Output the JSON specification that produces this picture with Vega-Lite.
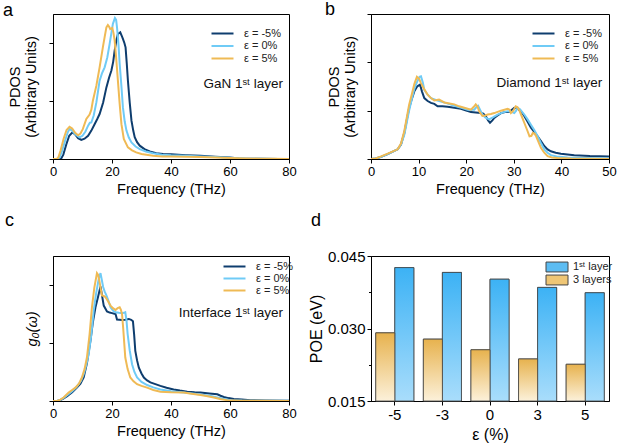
{
  "$schema": "https://vega.github.io/schema/vega-lite/v6.json",
  "padding": {"left": 2, "top": 0, "right": 2, "bottom": 2},
  "background": "white",
  "config": {
    "font": "Liberation Sans",
    "view": {"stroke": "black", "strokeWidth": 1},
    "axis": {"domainColor": "black", "tickColor": "black", "labelColor": "black", "titleColor": "black", "labelFontSize": 13, "titleFontSize": 14.5, "titleFontWeight": "normal", "grid": false, "labelFont": "Liberation Sans", "titleFont": "Liberation Sans", "labelFlush": false, "labelOverlap": false},
    "legend": {"labelFontSize": 11, "labelFont": "Liberation Sans", "labelColor": "#222", "symbolType": "M-2,0L2,0", "symbolStrokeWidth": 2.5, "symbolSize": 121, "labelOffset": 15, "rowPadding": 0.5},
    "title": {"fontSize": 18, "fontWeight": "normal", "anchor": "start", "frame": "group", "baseline": "alphabetic", "color": "black"},
    "line": {"strokeWidth": 2, "clip": true}
  },
  "resolve": {"scale": {"color": "independent", "fill": "independent"}},
  "datasets": {
    "a": [
      {"f":0,"v":0,"s":"ε = -5%"},{"f":2,"v":0,"s":"ε = -5%"},{"f":2.8,"v":0.02,"s":"ε = -5%"},{"f":3.5,"v":0.15,"s":"ε = -5%"},{"f":4.5,"v":0.5,"s":"ε = -5%"},{"f":5.5,"v":0.8,"s":"ε = -5%"},{"f":6.6,"v":0.92,"s":"ε = -5%"},{"f":7.5,"v":0.85,"s":"ε = -5%"},{"f":8.5,"v":0.72,"s":"ε = -5%"},{"f":9.6,"v":0.66,"s":"ε = -5%"},{"f":10.7,"v":0.7,"s":"ε = -5%"},{"f":11.9,"v":0.8,"s":"ε = -5%"},{"f":13,"v":0.98,"s":"ε = -5%"},{"f":14.1,"v":1.2,"s":"ε = -5%"},{"f":15,"v":1.38,"s":"ε = -5%"},{"f":15.8,"v":1.55,"s":"ε = -5%"},{"f":17,"v":1.95,"s":"ε = -5%"},{"f":18.1,"v":2.47,"s":"ε = -5%"},{"f":19,"v":2.8,"s":"ε = -5%"},{"f":19.8,"v":3.05,"s":"ε = -5%"},{"f":20.4,"v":3.35,"s":"ε = -5%"},{"f":20.9,"v":3.74,"s":"ε = -5%"},{"f":21.5,"v":4.1,"s":"ε = -5%"},{"f":22,"v":4.31,"s":"ε = -5%"},{"f":22.8,"v":4.37,"s":"ε = -5%"},{"f":23.3,"v":4.25,"s":"ε = -5%"},{"f":23.7,"v":4.14,"s":"ε = -5%"},{"f":24.2,"v":4.0,"s":"ε = -5%"},{"f":24.6,"v":3.85,"s":"ε = -5%"},{"f":25,"v":3.3,"s":"ε = -5%"},{"f":25.4,"v":2.7,"s":"ε = -5%"},{"f":26,"v":1.95,"s":"ε = -5%"},{"f":26.6,"v":1.32,"s":"ε = -5%"},{"f":27.2,"v":0.98,"s":"ε = -5%"},{"f":27.7,"v":0.75,"s":"ε = -5%"},{"f":28.5,"v":0.58,"s":"ε = -5%"},{"f":29.4,"v":0.46,"s":"ε = -5%"},{"f":31,"v":0.34,"s":"ε = -5%"},{"f":32.8,"v":0.26,"s":"ε = -5%"},{"f":35,"v":0.2,"s":"ε = -5%"},{"f":37.3,"v":0.17,"s":"ε = -5%"},{"f":40,"v":0.16,"s":"ε = -5%"},{"f":45,"v":0.13,"s":"ε = -5%"},{"f":50,"v":0.11,"s":"ε = -5%"},{"f":55,"v":0.08,"s":"ε = -5%"},{"f":60,"v":0.05,"s":"ε = -5%"},{"f":63,"v":0.02,"s":"ε = -5%"},{"f":66,"v":0.01,"s":"ε = -5%"},{"f":70,"v":0.005,"s":"ε = -5%"},{"f":76.5,"v":0,"s":"ε = -5%"},
      {"f":0,"v":0,"s":"ε = 0%"},{"f":1.5,"v":0,"s":"ε = 0%"},{"f":2.2,"v":0.05,"s":"ε = 0%"},{"f":3,"v":0.25,"s":"ε = 0%"},{"f":4,"v":0.6,"s":"ε = 0%"},{"f":5,"v":0.92,"s":"ε = 0%"},{"f":5.6,"v":1.03,"s":"ε = 0%"},{"f":6.5,"v":0.98,"s":"ε = 0%"},{"f":7.5,"v":0.85,"s":"ε = 0%"},{"f":9,"v":0.75,"s":"ε = 0%"},{"f":10,"v":0.8,"s":"ε = 0%"},{"f":11,"v":0.95,"s":"ε = 0%"},{"f":11.9,"v":1.15,"s":"ε = 0%"},{"f":12.5,"v":1.25,"s":"ε = 0%"},{"f":13,"v":1.26,"s":"ε = 0%"},{"f":13.8,"v":1.5,"s":"ε = 0%"},{"f":14.7,"v":1.95,"s":"ε = 0%"},{"f":15.8,"v":2.7,"s":"ε = 0%"},{"f":16.6,"v":2.95,"s":"ε = 0%"},{"f":17.5,"v":3.16,"s":"ε = 0%"},{"f":18.4,"v":3.5,"s":"ε = 0%"},{"f":19.2,"v":3.97,"s":"ε = 0%"},{"f":19.8,"v":4.35,"s":"ε = 0%"},{"f":20.3,"v":4.66,"s":"ε = 0%"},{"f":21,"v":4.86,"s":"ε = 0%"},{"f":21.4,"v":4.8,"s":"ε = 0%"},{"f":21.7,"v":4.54,"s":"ε = 0%"},{"f":22.2,"v":3.95,"s":"ε = 0%"},{"f":22.6,"v":3.28,"s":"ε = 0%"},{"f":23.2,"v":2.5,"s":"ε = 0%"},{"f":23.7,"v":1.78,"s":"ε = 0%"},{"f":24.3,"v":1.3,"s":"ε = 0%"},{"f":24.9,"v":0.98,"s":"ε = 0%"},{"f":25.7,"v":0.74,"s":"ε = 0%"},{"f":26.6,"v":0.57,"s":"ε = 0%"},{"f":28,"v":0.43,"s":"ε = 0%"},{"f":29.4,"v":0.34,"s":"ε = 0%"},{"f":31.5,"v":0.26,"s":"ε = 0%"},{"f":33.9,"v":0.2,"s":"ε = 0%"},{"f":37,"v":0.15,"s":"ε = 0%"},{"f":40,"v":0.13,"s":"ε = 0%"},{"f":45,"v":0.11,"s":"ε = 0%"},{"f":50,"v":0.09,"s":"ε = 0%"},{"f":55,"v":0.07,"s":"ε = 0%"},{"f":60,"v":0.04,"s":"ε = 0%"},{"f":65,"v":0.015,"s":"ε = 0%"},{"f":70,"v":0.005,"s":"ε = 0%"},{"f":76.5,"v":0,"s":"ε = 0%"},
      {"f":0,"v":0,"s":"ε = 5%"},{"f":1.2,"v":0,"s":"ε = 5%"},{"f":1.8,"v":0.05,"s":"ε = 5%"},{"f":2.6,"v":0.3,"s":"ε = 5%"},{"f":3.6,"v":0.7,"s":"ε = 5%"},{"f":4.6,"v":1.0,"s":"ε = 5%"},{"f":5.6,"v":1.11,"s":"ε = 5%"},{"f":6.5,"v":1.05,"s":"ε = 5%"},{"f":7.5,"v":0.9,"s":"ε = 5%"},{"f":8.5,"v":0.82,"s":"ε = 5%"},{"f":9.3,"v":0.88,"s":"ε = 5%"},{"f":10.1,"v":1.03,"s":"ε = 5%"},{"f":11.3,"v":1.38,"s":"ε = 5%"},{"f":12.4,"v":1.53,"s":"ε = 5%"},{"f":13,"v":1.7,"s":"ε = 5%"},{"f":13.5,"v":2.0,"s":"ε = 5%"},{"f":14.7,"v":2.53,"s":"ε = 5%"},{"f":15.8,"v":3.16,"s":"ε = 5%"},{"f":16.9,"v":3.85,"s":"ε = 5%"},{"f":17.5,"v":4.2,"s":"ε = 5%"},{"f":18.1,"v":4.54,"s":"ε = 5%"},{"f":18.6,"v":4.62,"s":"ε = 5%"},{"f":19.1,"v":4.55,"s":"ε = 5%"},{"f":19.4,"v":4.48,"s":"ε = 5%"},{"f":20.1,"v":4.52,"s":"ε = 5%"},{"f":20.5,"v":4.35,"s":"ε = 5%"},{"f":20.9,"v":4.08,"s":"ε = 5%"},{"f":21.4,"v":3.5,"s":"ε = 5%"},{"f":22,"v":2.7,"s":"ε = 5%"},{"f":22.6,"v":1.9,"s":"ε = 5%"},{"f":23.2,"v":1.2,"s":"ε = 5%"},{"f":24,"v":0.69,"s":"ε = 5%"},{"f":25.4,"v":0.4,"s":"ε = 5%"},{"f":26.8,"v":0.3,"s":"ε = 5%"},{"f":28.2,"v":0.23,"s":"ε = 5%"},{"f":30,"v":0.17,"s":"ε = 5%"},{"f":33.9,"v":0.11,"s":"ε = 5%"},{"f":37,"v":0.09,"s":"ε = 5%"},{"f":40,"v":0.085,"s":"ε = 5%"},{"f":45,"v":0.08,"s":"ε = 5%"},{"f":50,"v":0.07,"s":"ε = 5%"},{"f":55,"v":0.05,"s":"ε = 5%"},{"f":60,"v":0.035,"s":"ε = 5%"},{"f":65,"v":0.02,"s":"ε = 5%"},{"f":70,"v":0.01,"s":"ε = 5%"},{"f":75,"v":0.005,"s":"ε = 5%"},{"f":80,"v":0,"s":"ε = 5%"}
    ],
    "b": [
      {"f":0,"v":0,"s":"ε = -5%"},{"f":1,"v":0.01,"s":"ε = -5%"},{"f":2,"v":0.04,"s":"ε = -5%"},{"f":3.5,"v":0.1,"s":"ε = -5%"},{"f":5.6,"v":0.2,"s":"ε = -5%"},{"f":6.3,"v":0.3,"s":"ε = -5%"},{"f":7,"v":0.54,"s":"ε = -5%"},{"f":7.5,"v":0.8,"s":"ε = -5%"},{"f":8,"v":1.05,"s":"ε = -5%"},{"f":8.6,"v":1.25,"s":"ε = -5%"},{"f":9.1,"v":1.4,"s":"ε = -5%"},{"f":9.7,"v":1.5,"s":"ε = -5%"},{"f":10.3,"v":1.54,"s":"ε = -5%"},{"f":10.7,"v":1.4,"s":"ε = -5%"},{"f":11.2,"v":1.26,"s":"ε = -5%"},{"f":11.9,"v":1.2,"s":"ε = -5%"},{"f":12.6,"v":1.16,"s":"ε = -5%"},{"f":13.3,"v":1.14,"s":"ε = -5%"},{"f":14,"v":1.09,"s":"ε = -5%"},{"f":15,"v":1.09,"s":"ε = -5%"},{"f":16.1,"v":1.08,"s":"ε = -5%"},{"f":17.5,"v":1.06,"s":"ε = -5%"},{"f":18.9,"v":1.04,"s":"ε = -5%"},{"f":20,"v":1.0,"s":"ε = -5%"},{"f":21,"v":0.97,"s":"ε = -5%"},{"f":22,"v":0.96,"s":"ε = -5%"},{"f":23.1,"v":0.95,"s":"ε = -5%"},{"f":23.6,"v":0.94,"s":"ε = -5%"},{"f":24.1,"v":0.89,"s":"ε = -5%"},{"f":24.6,"v":0.8,"s":"ε = -5%"},{"f":25,"v":0.75,"s":"ε = -5%"},{"f":25.5,"v":0.8,"s":"ε = -5%"},{"f":25.9,"v":0.85,"s":"ε = -5%"},{"f":26.6,"v":0.9,"s":"ε = -5%"},{"f":27.3,"v":0.95,"s":"ε = -5%"},{"f":28.2,"v":0.97,"s":"ε = -5%"},{"f":29,"v":0.97,"s":"ε = -5%"},{"f":29.6,"v":1.02,"s":"ε = -5%"},{"f":30.1,"v":1.06,"s":"ε = -5%"},{"f":30.6,"v":1.05,"s":"ε = -5%"},{"f":31.1,"v":1.02,"s":"ε = -5%"},{"f":31.7,"v":0.96,"s":"ε = -5%"},{"f":32.2,"v":0.89,"s":"ε = -5%"},{"f":32.9,"v":0.77,"s":"ε = -5%"},{"f":33.6,"v":0.65,"s":"ε = -5%"},{"f":34.3,"v":0.56,"s":"ε = -5%"},{"f":35,"v":0.47,"s":"ε = -5%"},{"f":35.7,"v":0.37,"s":"ε = -5%"},{"f":36.4,"v":0.27,"s":"ε = -5%"},{"f":37.1,"v":0.2,"s":"ε = -5%"},{"f":37.8,"v":0.16,"s":"ε = -5%"},{"f":38.8,"v":0.13,"s":"ε = -5%"},{"f":39.9,"v":0.11,"s":"ε = -5%"},{"f":42.7,"v":0.08,"s":"ε = -5%"},{"f":46,"v":0.06,"s":"ε = -5%"},{"f":50,"v":0.05,"s":"ε = -5%"},
      {"f":0,"v":0,"s":"ε = 0%"},{"f":1,"v":0.01,"s":"ε = 0%"},{"f":2,"v":0.04,"s":"ε = 0%"},{"f":3.5,"v":0.1,"s":"ε = 0%"},{"f":5.6,"v":0.2,"s":"ε = 0%"},{"f":6.3,"v":0.3,"s":"ε = 0%"},{"f":7,"v":0.5,"s":"ε = 0%"},{"f":7.5,"v":0.75,"s":"ε = 0%"},{"f":8,"v":1.0,"s":"ε = 0%"},{"f":8.6,"v":1.25,"s":"ε = 0%"},{"f":9.1,"v":1.45,"s":"ε = 0%"},{"f":9.7,"v":1.6,"s":"ε = 0%"},{"f":10.2,"v":1.7,"s":"ε = 0%"},{"f":10.5,"v":1.71,"s":"ε = 0%"},{"f":10.9,"v":1.58,"s":"ε = 0%"},{"f":11.2,"v":1.43,"s":"ε = 0%"},{"f":11.9,"v":1.33,"s":"ε = 0%"},{"f":12.6,"v":1.26,"s":"ε = 0%"},{"f":13.6,"v":1.22,"s":"ε = 0%"},{"f":14.7,"v":1.19,"s":"ε = 0%"},{"f":16,"v":1.15,"s":"ε = 0%"},{"f":17.5,"v":1.1,"s":"ε = 0%"},{"f":19,"v":1.06,"s":"ε = 0%"},{"f":20.3,"v":1.02,"s":"ε = 0%"},{"f":21.7,"v":1.02,"s":"ε = 0%"},{"f":22.2,"v":1.08,"s":"ε = 0%"},{"f":22.5,"v":1.1,"s":"ε = 0%"},{"f":22.9,"v":1.02,"s":"ε = 0%"},{"f":23.4,"v":0.92,"s":"ε = 0%"},{"f":24,"v":0.86,"s":"ε = 0%"},{"f":24.8,"v":0.82,"s":"ε = 0%"},{"f":25.6,"v":0.86,"s":"ε = 0%"},{"f":26.6,"v":0.92,"s":"ε = 0%"},{"f":27.6,"v":0.96,"s":"ε = 0%"},{"f":28.7,"v":0.99,"s":"ε = 0%"},{"f":29.4,"v":0.98,"s":"ε = 0%"},{"f":30.1,"v":0.95,"s":"ε = 0%"},{"f":30.5,"v":1.0,"s":"ε = 0%"},{"f":30.8,"v":1.06,"s":"ε = 0%"},{"f":31.3,"v":1.03,"s":"ε = 0%"},{"f":32.2,"v":0.92,"s":"ε = 0%"},{"f":32.9,"v":0.82,"s":"ε = 0%"},{"f":33.6,"v":0.71,"s":"ε = 0%"},{"f":34.3,"v":0.6,"s":"ε = 0%"},{"f":35,"v":0.47,"s":"ε = 0%"},{"f":35.7,"v":0.33,"s":"ε = 0%"},{"f":36.4,"v":0.2,"s":"ε = 0%"},{"f":37.1,"v":0.13,"s":"ε = 0%"},{"f":37.8,"v":0.08,"s":"ε = 0%"},{"f":39,"v":0.05,"s":"ε = 0%"},{"f":41.3,"v":0.03,"s":"ε = 0%"},{"f":45,"v":0.02,"s":"ε = 0%"},{"f":50,"v":0.01,"s":"ε = 0%"},
      {"f":0,"v":0,"s":"ε = 5%"},{"f":1,"v":0.01,"s":"ε = 5%"},{"f":2,"v":0.05,"s":"ε = 5%"},{"f":3.5,"v":0.11,"s":"ε = 5%"},{"f":5.6,"v":0.2,"s":"ε = 5%"},{"f":6.3,"v":0.32,"s":"ε = 5%"},{"f":7,"v":0.58,"s":"ε = 5%"},{"f":7.5,"v":0.85,"s":"ε = 5%"},{"f":8,"v":1.12,"s":"ε = 5%"},{"f":8.6,"v":1.35,"s":"ε = 5%"},{"f":9.1,"v":1.55,"s":"ε = 5%"},{"f":9.65,"v":1.7,"s":"ε = 5%"},{"f":10.1,"v":1.66,"s":"ε = 5%"},{"f":10.5,"v":1.57,"s":"ε = 5%"},{"f":11.2,"v":1.44,"s":"ε = 5%"},{"f":11.9,"v":1.33,"s":"ε = 5%"},{"f":12.6,"v":1.26,"s":"ε = 5%"},{"f":13.3,"v":1.21,"s":"ε = 5%"},{"f":14.3,"v":1.23,"s":"ε = 5%"},{"f":15.4,"v":1.17,"s":"ε = 5%"},{"f":16.5,"v":1.15,"s":"ε = 5%"},{"f":17.5,"v":1.13,"s":"ε = 5%"},{"f":18.5,"v":1.09,"s":"ε = 5%"},{"f":19.6,"v":1.06,"s":"ε = 5%"},{"f":21,"v":1.02,"s":"ε = 5%"},{"f":21.6,"v":1.08,"s":"ε = 5%"},{"f":22,"v":1.13,"s":"ε = 5%"},{"f":22.4,"v":1.08,"s":"ε = 5%"},{"f":22.7,"v":0.99,"s":"ε = 5%"},{"f":23.4,"v":0.89,"s":"ε = 5%"},{"f":24,"v":0.9,"s":"ε = 5%"},{"f":24.5,"v":0.92,"s":"ε = 5%"},{"f":25.2,"v":0.93,"s":"ε = 5%"},{"f":25.9,"v":0.95,"s":"ε = 5%"},{"f":27.3,"v":1.0,"s":"ε = 5%"},{"f":28.7,"v":1.04,"s":"ε = 5%"},{"f":29.1,"v":1.02,"s":"ε = 5%"},{"f":29.4,"v":0.95,"s":"ε = 5%"},{"f":29.9,"v":1.0,"s":"ε = 5%"},{"f":30.4,"v":1.09,"s":"ε = 5%"},{"f":30.8,"v":1.07,"s":"ε = 5%"},{"f":31.1,"v":1.02,"s":"ε = 5%"},{"f":31.6,"v":0.9,"s":"ε = 5%"},{"f":32.2,"v":0.75,"s":"ε = 5%"},{"f":32.8,"v":0.6,"s":"ε = 5%"},{"f":33.3,"v":0.47,"s":"ε = 5%"},{"f":33.7,"v":0.48,"s":"ε = 5%"},{"f":34,"v":0.54,"s":"ε = 5%"},{"f":34.4,"v":0.52,"s":"ε = 5%"},{"f":34.7,"v":0.47,"s":"ε = 5%"},{"f":35.2,"v":0.35,"s":"ε = 5%"},{"f":35.7,"v":0.23,"s":"ε = 5%"},{"f":36.4,"v":0.13,"s":"ε = 5%"},{"f":37.1,"v":0.06,"s":"ε = 5%"},{"f":38,"v":0.03,"s":"ε = 5%"},{"f":39.2,"v":0.02,"s":"ε = 5%"},{"f":42,"v":0.01,"s":"ε = 5%"},{"f":50,"v":0,"s":"ε = 5%"}
    ],
    "c": [
      {"f":0,"v":0,"s":"ε = -5%"},{"f":1.4,"v":0,"s":"ε = -5%"},{"f":2.5,"v":0.03,"s":"ε = -5%"},{"f":3.5,"v":0.08,"s":"ε = -5%"},{"f":4.8,"v":0.17,"s":"ε = -5%"},{"f":6.5,"v":0.3,"s":"ε = -5%"},{"f":8.1,"v":0.46,"s":"ε = -5%"},{"f":9.3,"v":0.6,"s":"ε = -5%"},{"f":10.4,"v":0.81,"s":"ε = -5%"},{"f":11.5,"v":1.3,"s":"ε = -5%"},{"f":12.7,"v":2.08,"s":"ε = -5%"},{"f":13.5,"v":2.7,"s":"ε = -5%"},{"f":14.4,"v":3.23,"s":"ε = -5%"},{"f":15.3,"v":3.6,"s":"ε = -5%"},{"f":16.1,"v":3.95,"s":"ε = -5%"},{"f":16.6,"v":3.65,"s":"ε = -5%"},{"f":17.2,"v":3.29,"s":"ε = -5%"},{"f":18.3,"v":3.09,"s":"ε = -5%"},{"f":19.2,"v":3.05,"s":"ε = -5%"},{"f":20,"v":3.03,"s":"ε = -5%"},{"f":20.8,"v":3.01,"s":"ε = -5%"},{"f":21.2,"v":3.0,"s":"ε = -5%"},{"f":21.7,"v":2.81,"s":"ε = -5%"},{"f":22.5,"v":2.8,"s":"ε = -5%"},{"f":23.4,"v":2.79,"s":"ε = -5%"},{"f":24.5,"v":2.8,"s":"ε = -5%"},{"f":25.7,"v":2.83,"s":"ε = -5%"},{"f":26.5,"v":2.8,"s":"ε = -5%"},{"f":27.1,"v":2.75,"s":"ε = -5%"},{"f":27.5,"v":2.3,"s":"ε = -5%"},{"f":27.9,"v":1.73,"s":"ε = -5%"},{"f":28.5,"v":1.4,"s":"ε = -5%"},{"f":29.1,"v":1.15,"s":"ε = -5%"},{"f":30,"v":0.95,"s":"ε = -5%"},{"f":30.8,"v":0.81,"s":"ε = -5%"},{"f":31.9,"v":0.71,"s":"ε = -5%"},{"f":33,"v":0.64,"s":"ε = -5%"},{"f":34.7,"v":0.58,"s":"ε = -5%"},{"f":36.4,"v":0.52,"s":"ε = -5%"},{"f":38.5,"v":0.46,"s":"ε = -5%"},{"f":40.9,"v":0.4,"s":"ε = -5%"},{"f":43,"v":0.36,"s":"ε = -5%"},{"f":45.5,"v":0.32,"s":"ε = -5%"},{"f":48,"v":0.3,"s":"ε = -5%"},{"f":50,"v":0.29,"s":"ε = -5%"},{"f":53,"v":0.26,"s":"ε = -5%"},{"f":55.7,"v":0.23,"s":"ε = -5%"},{"f":56.8,"v":0.18,"s":"ε = -5%"},{"f":57.9,"v":0.14,"s":"ε = -5%"},{"f":59.5,"v":0.1,"s":"ε = -5%"},{"f":61.3,"v":0.07,"s":"ε = -5%"},{"f":64,"v":0.05,"s":"ε = -5%"},{"f":67,"v":0.03,"s":"ε = -5%"},{"f":72,"v":0.02,"s":"ε = -5%"},{"f":80,"v":0.01,"s":"ε = -5%"},
      {"f":0,"v":0,"s":"ε = 0%"},{"f":1.4,"v":0,"s":"ε = 0%"},{"f":2.5,"v":0.04,"s":"ε = 0%"},{"f":3.6,"v":0.11,"s":"ε = 0%"},{"f":5,"v":0.22,"s":"ε = 0%"},{"f":6.5,"v":0.34,"s":"ε = 0%"},{"f":8,"v":0.48,"s":"ε = 0%"},{"f":9.5,"v":0.7,"s":"ε = 0%"},{"f":10.5,"v":0.95,"s":"ε = 0%"},{"f":11.3,"v":1.25,"s":"ε = 0%"},{"f":12.1,"v":1.62,"s":"ε = 0%"},{"f":13,"v":2.3,"s":"ε = 0%"},{"f":13.8,"v":3.12,"s":"ε = 0%"},{"f":14.6,"v":3.7,"s":"ε = 0%"},{"f":15.5,"v":4.21,"s":"ε = 0%"},{"f":16.1,"v":4.41,"s":"ε = 0%"},{"f":16.5,"v":4.2,"s":"ε = 0%"},{"f":17,"v":3.93,"s":"ε = 0%"},{"f":17.5,"v":3.78,"s":"ε = 0%"},{"f":18.1,"v":3.64,"s":"ε = 0%"},{"f":18.8,"v":3.45,"s":"ε = 0%"},{"f":19.5,"v":3.23,"s":"ε = 0%"},{"f":20.3,"v":3.12,"s":"ε = 0%"},{"f":21.2,"v":3.06,"s":"ε = 0%"},{"f":22.3,"v":3.04,"s":"ε = 0%"},{"f":23.4,"v":3.03,"s":"ε = 0%"},{"f":24,"v":3.04,"s":"ε = 0%"},{"f":24.5,"v":3.06,"s":"ε = 0%"},{"f":24.9,"v":2.8,"s":"ε = 0%"},{"f":25.3,"v":2.31,"s":"ε = 0%"},{"f":26,"v":1.75,"s":"ε = 0%"},{"f":26.8,"v":1.27,"s":"ε = 0%"},{"f":27.6,"v":1.0,"s":"ε = 0%"},{"f":28.5,"v":0.81,"s":"ε = 0%"},{"f":30,"v":0.66,"s":"ε = 0%"},{"f":31.9,"v":0.55,"s":"ε = 0%"},{"f":34,"v":0.47,"s":"ε = 0%"},{"f":36.4,"v":0.4,"s":"ε = 0%"},{"f":40,"v":0.34,"s":"ε = 0%"},{"f":44.3,"v":0.29,"s":"ε = 0%"},{"f":48,"v":0.25,"s":"ε = 0%"},{"f":51.1,"v":0.21,"s":"ε = 0%"},{"f":53.5,"v":0.17,"s":"ε = 0%"},{"f":55.7,"v":0.12,"s":"ε = 0%"},{"f":58,"v":0.07,"s":"ε = 0%"},{"f":60.2,"v":0.03,"s":"ε = 0%"},{"f":64,"v":0.015,"s":"ε = 0%"},{"f":70,"v":0.01,"s":"ε = 0%"},{"f":80,"v":0.005,"s":"ε = 0%"},
      {"f":0,"v":0,"s":"ε = 5%"},{"f":1.4,"v":0,"s":"ε = 5%"},{"f":2.5,"v":0.05,"s":"ε = 5%"},{"f":3.6,"v":0.12,"s":"ε = 5%"},{"f":5.3,"v":0.29,"s":"ε = 5%"},{"f":6.5,"v":0.38,"s":"ε = 5%"},{"f":7.6,"v":0.46,"s":"ε = 5%"},{"f":8.8,"v":0.6,"s":"ε = 5%"},{"f":9.8,"v":0.81,"s":"ε = 5%"},{"f":10.7,"v":1.1,"s":"ε = 5%"},{"f":11.5,"v":1.5,"s":"ε = 5%"},{"f":12.4,"v":2.3,"s":"ε = 5%"},{"f":13.2,"v":3.23,"s":"ε = 5%"},{"f":14,"v":3.9,"s":"ε = 5%"},{"f":14.9,"v":4.41,"s":"ε = 5%"},{"f":15.3,"v":4.35,"s":"ε = 5%"},{"f":15.8,"v":4.1,"s":"ε = 5%"},{"f":16.2,"v":3.85,"s":"ε = 5%"},{"f":16.6,"v":3.64,"s":"ε = 5%"},{"f":17.2,"v":3.62,"s":"ε = 5%"},{"f":17.8,"v":3.58,"s":"ε = 5%"},{"f":18.6,"v":3.45,"s":"ε = 5%"},{"f":19.5,"v":3.29,"s":"ε = 5%"},{"f":20.3,"v":3.2,"s":"ε = 5%"},{"f":21.2,"v":3.14,"s":"ε = 5%"},{"f":21.9,"v":3.2,"s":"ε = 5%"},{"f":22.6,"v":3.23,"s":"ε = 5%"},{"f":23,"v":3.15,"s":"ε = 5%"},{"f":23.4,"v":3.0,"s":"ε = 5%"},{"f":23.8,"v":2.5,"s":"ε = 5%"},{"f":24.5,"v":1.5,"s":"ε = 5%"},{"f":25.3,"v":1.1,"s":"ε = 5%"},{"f":26.2,"v":0.81,"s":"ε = 5%"},{"f":27.3,"v":0.68,"s":"ε = 5%"},{"f":28.5,"v":0.58,"s":"ε = 5%"},{"f":30,"v":0.52,"s":"ε = 5%"},{"f":31.9,"v":0.46,"s":"ε = 5%"},{"f":34,"v":0.38,"s":"ε = 5%"},{"f":36.4,"v":0.32,"s":"ε = 5%"},{"f":40,"v":0.3,"s":"ε = 5%"},{"f":44.3,"v":0.29,"s":"ε = 5%"},{"f":47,"v":0.25,"s":"ε = 5%"},{"f":50,"v":0.21,"s":"ε = 5%"},{"f":52,"v":0.17,"s":"ε = 5%"},{"f":54.5,"v":0.12,"s":"ε = 5%"},{"f":57,"v":0.06,"s":"ε = 5%"},{"f":59,"v":0.03,"s":"ε = 5%"},{"f":63.6,"v":0.01,"s":"ε = 5%"},{"f":70,"v":0.005,"s":"ε = 5%"},{"f":80,"v":0,"s":"ε = 5%"}
    ],
    "d": [
      {"eps":-5,"g":"1st layer","v":0.0426},{"eps":-3,"g":"1st layer","v":0.0416},{"eps":0,"g":"1st layer","v":0.0402},{"eps":3,"g":"1st layer","v":0.0385},{"eps":5,"g":"1st layer","v":0.0374},
      {"eps":-5,"g":"3 layers","v":0.0291},{"eps":-3,"g":"3 layers","v":0.0278},{"eps":0,"g":"3 layers","v":0.0256},{"eps":3,"g":"3 layers","v":0.0237},{"eps":5,"g":"3 layers","v":0.0226}
    ]
  },
  "columns": 2,
  "spacing": {"row": 15, "column": 10},
  "concat": [
    {
      "width": 236, "height": 145,
      "title": {"text": "a", "dx": -50, "offset": -5.5},
      "layer": [
        {
          "data": {"name": "a"},
          "mark": {"type": "line", "strokeWidth": 2, "clip": true},
          "encoding": {
            "x": {"field": "f", "type": "quantitative", "scale": {"domain": [0, 80], "nice": false},
              "axis": {"title": "Frequency (THz)", "values": [0,10,20,30,40,50,60,70,80], "labelExpr": "datum.value % 20 === 0 ? datum.label : ''", "tickSize": {"condition": {"test": "datum.value % 20 === 0", "value": 4}, "value": 2.5}}},
            "y": {"field": "v", "type": "quantitative", "scale": {"domain": [0, 5], "nice": false},
              "axis": {"title": ["PDOS", "(Arbitrary Units)"], "labels": false, "values": [0,0.5,1,1.5,2,2.5,3,3.5,4,4.5,5], "tickSize": {"condition": {"test": "datum.value % 1 === 0", "value": 4}, "value": 2.5}, "titlePadding": 10}},
            "color": {"field": "s", "type": "nominal", "scale": {"domain": ["ε = -5%", "ε = 0%", "ε = 5%"], "range": ["#0e3d6e", "#6fcbf6", "#efba55"]},
              "legend": {"title": null, "orient": "none", "legendX": 163, "legendY": 13}}
          }
        },
        {
          "data": {"values": [{}]},
          "mark": {"type": "text", "text": "GaN 1ˢᵗ layer", "align": "right", "baseline": "middle", "fontSize": 13.5, "color": "#111"},
          "encoding": {"x": {"datum": 78, "type": "quantitative"}, "y": {"datum": 2.6, "type": "quantitative"}}
        }
      ]
    },
    {
      "width": 238, "height": 145,
      "title": {"text": "b", "dx": -46, "offset": -5.5},
      "layer": [
        {
          "data": {"name": "b"},
          "mark": {"type": "line", "strokeWidth": 2, "clip": true},
          "encoding": {
            "x": {"field": "f", "type": "quantitative", "scale": {"domain": [0, 50], "nice": false},
              "axis": {"title": "Frequency (THz)", "values": [0,5,10,15,20,25,30,35,40,45,50], "labelExpr": "datum.value % 10 === 0 ? datum.label : ''", "tickSize": {"condition": {"test": "datum.value % 10 === 0", "value": 4}, "value": 2.5}}},
            "y": {"field": "v", "type": "quantitative", "scale": {"domain": [0, 3], "nice": false},
              "axis": {"title": ["PDOS", "(Arbitrary Units)"], "labels": false, "values": [0,0.5,1,1.5,2,2.5,3], "tickSize": {"condition": {"test": "datum.value % 1 === 0", "value": 4}, "value": 2.5}, "titlePadding": 9}},
            "color": {"field": "s", "type": "nominal", "scale": {"domain": ["ε = -5%", "ε = 0%", "ε = 5%"], "range": ["#0e3d6e", "#6fcbf6", "#efba55"]},
              "legend": {"title": null, "orient": "none", "legendX": 166, "legendY": 13}}
          }
        },
        {
          "data": {"values": [{}]},
          "mark": {"type": "text", "text": "Diamond 1ˢᵗ layer", "align": "right", "baseline": "middle", "fontSize": 13.5, "color": "#111"},
          "encoding": {"x": {"datum": 48.6, "type": "quantitative"}, "y": {"datum": 1.58, "type": "quantitative"}}
        }
      ]
    },
    {
      "width": 236, "height": 145,
      "title": {"text": "c", "dx": -48, "offset": 26},
      "layer": [
        {
          "data": {"name": "c"},
          "mark": {"type": "line", "strokeWidth": 2, "clip": true},
          "encoding": {
            "x": {"field": "f", "type": "quantitative", "scale": {"domain": [0, 80], "nice": false},
              "axis": {"title": "Frequency (THz)", "values": [0,10,20,30,40,50,60,70,80], "labelExpr": "datum.value % 20 === 0 ? datum.label : ''", "tickSize": {"condition": {"test": "datum.value % 20 === 0", "value": 4}, "value": 2.5}}},
            "y": {"field": "v", "type": "quantitative", "scale": {"domain": [0, 5], "nice": false},
              "axis": {"title": "g₀(ω)", "titleFontStyle": "italic", "labels": false, "values": [0,0.5,1,1.5,2,2.5,3,3.5,4,4.5,5], "tickSize": {"condition": {"test": "datum.value % 1 === 0", "value": 4}, "value": 2.5}, "titlePadding": 9}},
            "color": {"field": "s", "type": "nominal", "scale": {"domain": ["ε = -5%", "ε = 0%", "ε = 5%"], "range": ["#0e3d6e", "#6fcbf6", "#efba55"]},
              "legend": {"title": null, "orient": "none", "legendX": 175, "legendY": 4, "rowPadding": -2}}
          }
        },
        {
          "data": {"values": [{}]},
          "mark": {"type": "text", "text": "Interface 1ˢᵗ layer", "align": "right", "baseline": "middle", "fontSize": 13.5, "color": "#111"},
          "encoding": {"x": {"datum": 78, "type": "quantitative"}, "y": {"datum": 3.03, "type": "quantitative"}}
        }
      ]
    },
    {
      "width": 238, "height": 145,
      "title": {"text": "d", "dx": -60, "offset": 19},
      "data": {"name": "d"},
      "encoding": {
        "x": {"field": "eps", "type": "ordinal", "scale": {"paddingInner": 0.2, "paddingOuter": 0.1},
          "axis": {"title": "ε (%)", "labelAngle": 0, "labelFontSize": 15, "titleFontSize": 16, "tickSize": 4}},
        "xOffset": {"field": "g", "type": "nominal", "sort": ["3 layers", "1st layer"], "scale": {"paddingInner": 0, "paddingOuter": 0}},
        "y": {"field": "v", "type": "quantitative", "scale": {"domain": [0.015, 0.045], "nice": false, "zero": false},
          "axis": {"title": "POE (eV)", "values": [0.015, 0.0225, 0.03, 0.0375, 0.045], "labelExpr": "(datum.value === 0.015 || datum.value === 0.03 || datum.value === 0.045) ? format(datum.value, '.3f') : ''", "tickSize": {"condition": {"test": "datum.value === 0.015 || datum.value === 0.03 || datum.value === 0.045", "value": 4}, "value": 2.5}, "labelFontSize": 15, "titleFontSize": 16, "titlePadding": 3}},
        "y2": {"datum": 0.015}
      },
      "layer": [
        {
          "mark": {"type": "bar", "stroke": "#444", "strokeWidth": 0.8},
          "encoding": {
            "fill": {"field": "g", "type": "nominal", "scale": {"domain": ["1st layer", "3 layers"], "range": ["#5cbcf2", "#efc675"]},
              "legend": {"title": null, "orient": "none", "legendX": 180, "legendY": 5, "symbolType": "M-2,-0.9L2,-0.9L2,0.9L-2,0.9Z", "symbolSize": 121, "symbolStrokeColor": "#444", "symbolStrokeWidth": 1, "rowPadding": -1, "labelOffset": 10, "labelExpr": "datum.label === '1st layer' ? '1ˢᵗ layer' : datum.label"}}
          }
        },
        {
          "transform": [{"filter": "datum.g === '1st layer'"}],
          "mark": {"type": "bar", "stroke": "#444", "strokeWidth": 0.8, "fill": {"gradient": "linear", "x1": 0, "y1": 0, "x2": 0, "y2": 1, "stops": [{"offset": 0, "color": "#3cb2f5"}, {"offset": 1, "color": "#a9ddfb"}]}}
        },
        {
          "transform": [{"filter": "datum.g === '3 layers'"}],
          "mark": {"type": "bar", "stroke": "#444", "strokeWidth": 0.8, "fill": {"gradient": "linear", "x1": 0, "y1": 0, "x2": 0, "y2": 1, "stops": [{"offset": 0, "color": "#e7b24e"}, {"offset": 1, "color": "#fcf1da"}]}}
        }
      ]
    }
  ]
}
